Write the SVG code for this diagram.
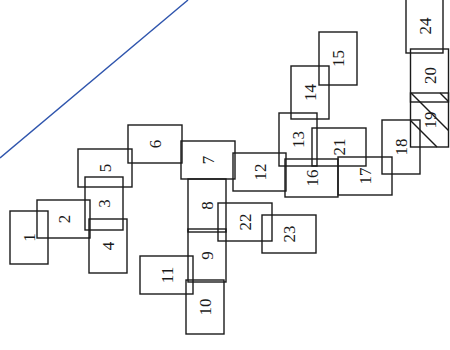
<svg xmlns="http://www.w3.org/2000/svg" width="450" height="350" viewBox="0 0 450 350">
<style>
rect{fill:none;stroke:#1a1a1a;stroke-width:1.4}
text{font-family:"Liberation Serif","Times New Roman",serif;font-size:17px;text-anchor:middle;fill:#1a1a1a}
.h{stroke:#1a1a1a;stroke-width:1.4}
.c{stroke:#2f55ad;stroke-width:1.4;fill:none}
</style>
<rect x="0" y="0" width="450" height="350" style="fill:#fff;stroke:none"/>
<g id="connectors">
<path class="c" d="M0,158 L188,0"/>
</g>
<g id="n1"><rect x="10" y="211" width="38" height="53"/><text x="29" y="243.5" transform="rotate(-90 29 237.5)">1</text></g>
<g id="n2"><rect x="37" y="200" width="53" height="38"/><text x="63.5" y="225" transform="rotate(-90 63.5 219)">2</text></g>
<g id="n3"><rect x="85" y="177" width="38" height="53"/><text x="104" y="209.5" transform="rotate(-90 104 203.5)">3</text></g>
<g id="n4"><rect x="89" y="219" width="38" height="54"/><text x="108" y="252" transform="rotate(-90 108 246)">4</text></g>
<g id="n5"><rect x="78" y="149" width="54" height="38"/><text x="105" y="174" transform="rotate(-90 105 168)">5</text></g>
<g id="n6"><rect x="128" y="125" width="54" height="38"/><text x="155" y="150" transform="rotate(-90 155 144)">6</text></g>
<g id="n7"><rect x="181" y="141" width="54" height="38"/><text x="208" y="166" transform="rotate(-90 208 160)">7</text></g>
<g id="n8"><rect x="188" y="179" width="38" height="53"/><text x="207" y="211.5" transform="rotate(-90 207 205.5)">8</text></g>
<g id="n9"><rect x="188" y="229" width="38" height="53"/><text x="207" y="261.5" transform="rotate(-90 207 255.5)">9</text></g>
<g id="n10"><rect x="186" y="280" width="38" height="54"/><text x="205" y="313" transform="rotate(-90 205 307)">10</text></g>
<g id="n11"><rect x="140" y="256" width="53" height="38"/><text x="166.5" y="281" transform="rotate(-90 166.5 275)">11</text></g>
<g id="n12"><rect x="233" y="153" width="53" height="38"/><text x="259.5" y="178" transform="rotate(-90 259.5 172)">12</text></g>
<g id="n13"><rect x="279" y="113" width="38" height="53"/><text x="298" y="145.5" transform="rotate(-90 298 139.5)">13</text></g>
<g id="n14"><rect x="291" y="66" width="38" height="53"/><text x="310" y="98.5" transform="rotate(-90 310 92.5)">14</text></g>
<g id="n15"><rect x="319" y="32" width="38" height="53"/><text x="338" y="64.5" transform="rotate(-90 338 58.5)">15</text></g>
<g id="n16"><rect x="285" y="159" width="53" height="38"/><text x="311.5" y="184" transform="rotate(-90 311.5 178)">16</text></g>
<g id="n17"><rect x="338" y="157" width="54" height="38"/><text x="365" y="182" transform="rotate(-90 365 176)">17</text></g>
<g id="n18"><rect x="382" y="120" width="38" height="54"/><text x="401" y="153" transform="rotate(-90 401 147)">18</text></g>
<g id="n19"><rect x="410.5" y="93" width="38" height="54"/>
<line class="h" x1="440" y1="93" x2="448.5" y2="101.5"/>
<line class="h" x1="411" y1="93" x2="448.5" y2="130.5"/>
<line class="h" x1="410.5" y1="120.5" x2="437" y2="147"/>
<text x="429.5" y="126" transform="rotate(-90 429.5 120)">19</text></g>
<g id="n20"><rect x="410.5" y="49" width="38" height="53"/><text x="429.5" y="81.5" transform="rotate(-90 429.5 75.5)">20</text></g>
<g id="n21"><rect x="312" y="128" width="54" height="38"/><text x="339" y="153" transform="rotate(-90 339 147)">21</text></g>
<g id="n22"><rect x="218" y="203" width="54" height="38"/><text x="245" y="228" transform="rotate(-90 245 222)">22</text></g>
<g id="n23"><rect x="262" y="215" width="54" height="38"/><text x="289" y="240" transform="rotate(-90 289 234)">23</text></g>
<g id="n24"><rect x="406" y="-1" width="37" height="54"/><text x="424.5" y="32" transform="rotate(-90 424.5 26)">24</text></g>
</svg>
